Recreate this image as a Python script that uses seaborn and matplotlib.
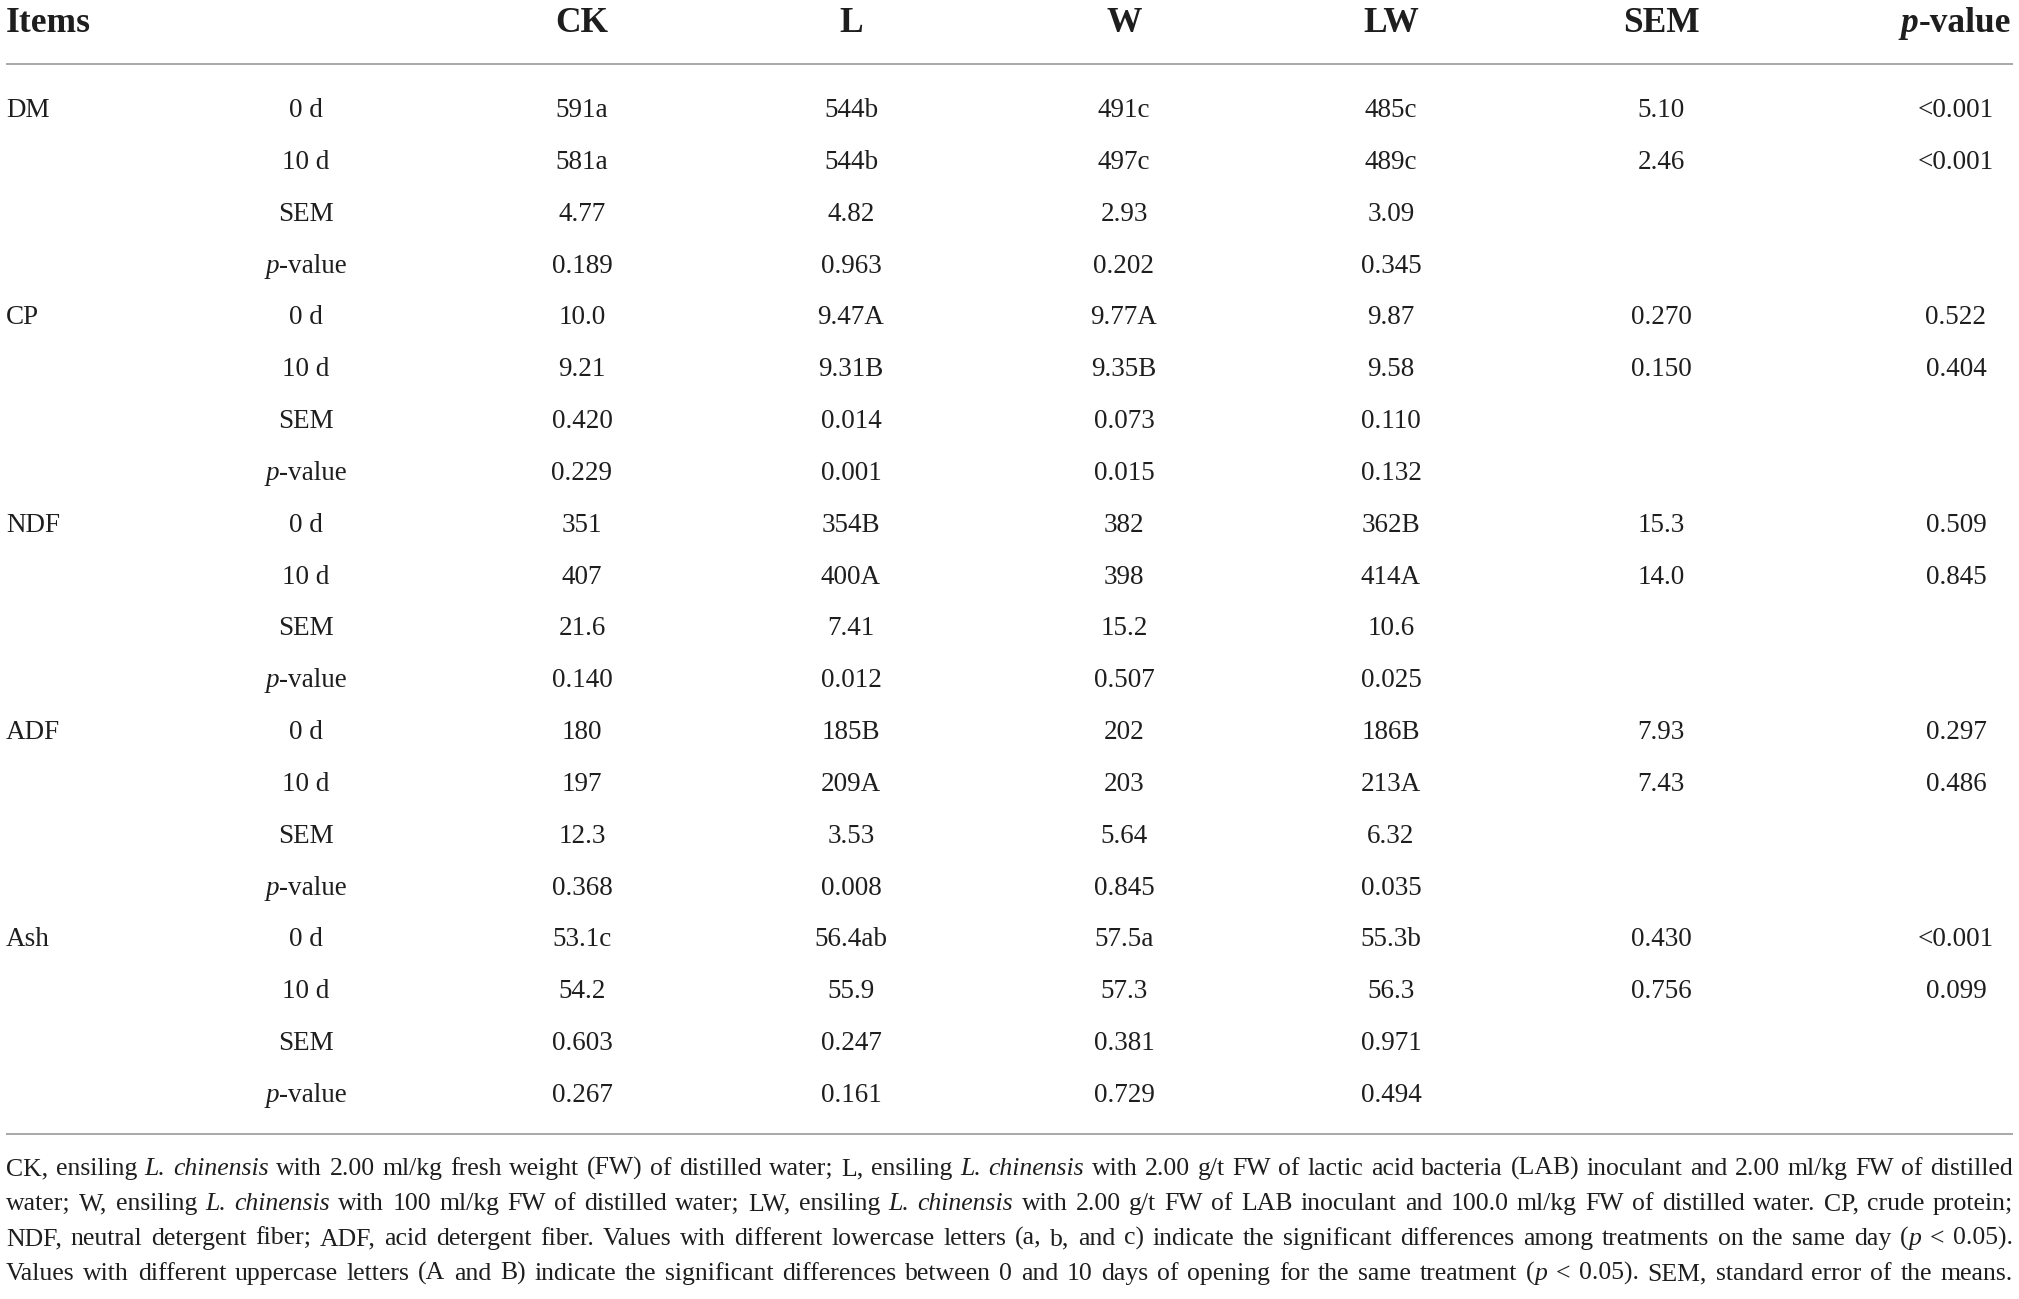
#!/usr/bin/env python3

import matplotlib

matplotlib.use("Agg")
import matplotlib.pyplot as plt
import pandas as pd
import seaborn as sns

items = ["DM", "CP", "NDF", "ADF", "Ash"]
stats = ["0 d", "10 d", "SEM", "p-value"]
treatments = ["CK", "L", "W", "LW"]

ck = ["591a", "581a", "4.77", "0.189", "10.0", "9.21", "0.420", "0.229",
      "351", "407", "21.6", "0.140", "180", "197", "12.3", "0.368",
      "53.1c", "54.2", "0.603", "0.267"]
l_ = ["544b", "544b", "4.82", "0.963", "9.47A", "9.31B", "0.014", "0.001",
      "354B", "400A", "7.41", "0.012", "185B", "209A", "3.53", "0.008",
      "56.4ab", "55.9", "0.247", "0.161"]
w_ = ["491c", "497c", "2.93", "0.202", "9.77A", "9.35B", "0.073", "0.015",
      "382", "398", "15.2", "0.507", "202", "203", "5.64", "0.845",
      "57.5a", "57.3", "0.381", "0.729"]
lw = ["485c", "489c", "3.09", "0.345", "9.87", "9.58", "0.110", "0.132",
      "362B", "414A", "10.6", "0.025", "186B", "213A", "6.32", "0.035",
      "55.3b", "56.3", "0.971", "0.494"]
# SEM and p-value across treatments, only for the 0 d / 10 d rows
sem_day = ["5.10", "2.46", "0.270", "0.150", "15.3", "14.0", "7.93", "7.43",
           "0.430", "0.756"]
p_day = ["<0.001", "<0.001", "0.522", "0.404", "0.509", "0.845", "0.297",
         "0.486", "<0.001", "0.099"]

footnote = [
    "CK, ensiling *L.* *chinensis* with 2.00 ml/kg fresh weight (FW) of distilled water; L, ensiling *L.* *chinensis* with 2.00 g/t FW of lactic acid bacteria (LAB) inoculant and 2.00 ml/kg FW of distilled",
    "water; W, ensiling *L.* *chinensis* with 100 ml/kg FW of distilled water; LW, ensiling *L.* *chinensis* with 2.00 g/t FW of LAB inoculant and 100.0 ml/kg FW of distilled water. CP, crude protein;",
    "NDF, neutral detergent fiber; ADF, acid detergent fiber. Values with different lowercase letters (a, b, and c) indicate the significant differences among treatments on the same day (*p* < 0.05).",
    "Values with different uppercase letters (A and B) indicate the significant differences between 0 and 10 days of opening for the same treatment (*p* < 0.05). SEM, standard error of the means.",
]

# long table
rows = []
k = 0
for i, item in enumerate(items):
    for j, st in enumerate(stats):
        day = j < 2
        rows.append({
            "item": item if j == 0 else "",
            "stat": st,
            "CK": ck[k], "L": l_[k], "W": w_[k], "LW": lw[k],
            "SEM": sem_day[2 * i + j] if day else "",
            "p": p_day[2 * i + j] if day else "",
        })
        k += 1
table = pd.DataFrame(rows)

sns.set_theme(style="white")
plt.rcParams["font.family"] = ["Liberation Serif", "DejaVu Serif"]

INK = "#1e1e1e"
RULE = "#9a9a9a"
W, H = 2019, 1299

fig = plt.figure(figsize=(W / 100, H / 100), dpi=100)
ax = fig.add_axes([0, 0, 1, 1])
ax.set_xlim(0, W)
ax.set_ylim(H, 0)
ax.axis("off")
renderer = fig.canvas.get_renderer()

left, right = 6, 2013
col_x = {"stat": 306, "CK": 582, "L": 851, "W": 1124, "LW": 1391,
         "SEM": 1661, "p": 1956}
body_size, head_size = 19.5, 25.5


def run_width(s, style, weight, size):
    t = ax.text(0, 0, s, fontsize=size, fontstyle=style, fontweight=weight)
    w = t.get_window_extent(renderer).width
    t.remove()
    return w


def parse(s):
    parts = s.split("*")
    return [(p, "italic" if n % 2 else "normal") for n, p in enumerate(parts) if p]


def draw_runs(x, y, runs, size, weight="normal", ha="left"):
    widths = [run_width(s, st, weight, size) for s, st in runs]
    total = sum(widths)
    if ha == "center":
        x -= total / 2
    elif ha == "right":
        x -= total
    for (s, st), w in zip(runs, widths):
        ax.text(x, y, s, fontsize=size, fontstyle=st, fontweight=weight,
                va="baseline", color=INK)
        x += w


# header
head_y = 32
ax.text(left, head_y, "Items", fontsize=head_size, fontweight="bold",
        va="baseline", color=INK)
for t in treatments + ["SEM"]:
    ax.text(col_x[t], head_y, t, fontsize=head_size, fontweight="bold",
            ha="center", va="baseline", color=INK)
draw_runs(col_x["p"], head_y, [("p", "italic"), ("-value", "normal")],
          head_size, weight="bold", ha="center")

ax.hlines([64, 1134], left, right, color=RULE, lw=1.2)

# body
row0, row_h = 117, 51.84
for i, r in table.iterrows():
    y = row0 + i * row_h
    if r["item"]:
        ax.text(left, y, r["item"], fontsize=body_size, va="baseline", color=INK)
    if r["stat"] == "p-value":
        draw_runs(col_x["stat"], y, [("p", "italic"), ("-value", "normal")],
                  body_size, ha="center")
    else:
        ax.text(col_x["stat"], y, r["stat"], fontsize=body_size, ha="center",
                va="baseline", color=INK)
    for c in treatments + ["SEM", "p"]:
        if r[c]:
            ax.text(col_x[c], y, r[c], fontsize=body_size, ha="center",
                    va="baseline", color=INK)

# justified footnote: pick the largest size where every line fits with
# a narrow natural word space, then spread words to the full width
ref_size = 16
note_words = [[parse(wd) for wd in line.split(" ")] for line in footnote]
ref_widths = [[sum(run_width(s, st, "normal", ref_size) for s, st in wd)
               for wd in words] for words in note_words]
min_space = 0.2 * ref_size * 100 / 72
note_size = min(ref_size * (right - left) / (sum(ws) + min_space * (len(ws) - 1))
                for ws in ref_widths)
note_size = min(note_size, 18.5)

note_y = [1175, 1210, 1245, 1280]
for words, y in zip(note_words, note_y):
    widths = [sum(run_width(s, st, "normal", note_size) for s, st in wd) for wd in words]
    gap = (right - left - sum(widths)) / (len(words) - 1)
    x = left
    for wd, wdt in zip(words, widths):
        draw_runs(x, y, wd, note_size)
        x += wdt + gap

fig.savefig("out.png", dpi=100)
plt.close(fig)
